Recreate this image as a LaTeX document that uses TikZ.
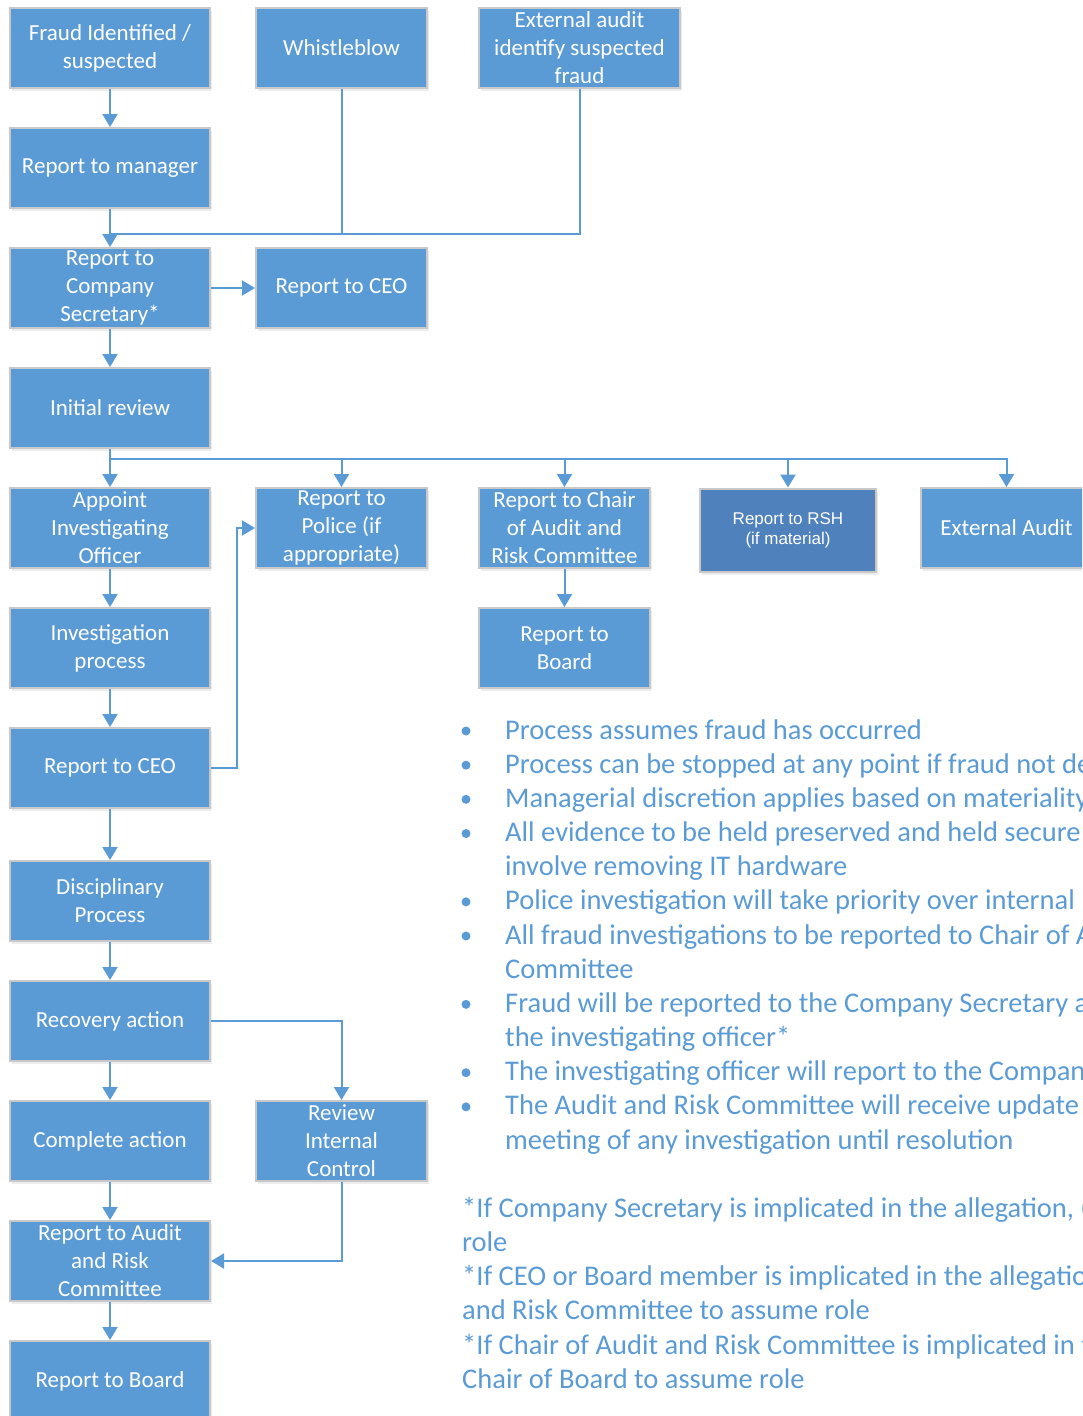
\documentclass[tikz,border=0pt]{standalone}
\usepackage{fontspec}
\setmainfont{Carlito}
\newfontfamily\arialfont{Liberation Sans}
\usetikzlibrary{arrows.meta,shadows}
\definecolor{boxblue}{HTML}{5B9BD5}
\definecolor{rshblue}{HTML}{4F81BD}
\definecolor{boxedge}{HTML}{C8C8C8}

\begin{document}
\begin{tikzpicture}[x=1pt,y=-1pt]
\tikzstyle{every node}+=[inner sep=0pt]
\tikzstyle{box}=[rectangle, fill=boxblue, draw=boxedge, line width=2pt, minimum height=80pt, text=white, align=center, font=\fontsize{23}{28}\selectfont, drop shadow={opacity=0.15, shadow xshift=2pt, shadow yshift=-3pt}]
\tikzstyle{wide}=[box, minimum width=200pt]
\tikzstyle{narrow}=[box, minimum width=171pt]
\tikzstyle{rshbox}=[box, fill=rshblue, minimum width=176pt, minimum height=83pt, font=\arialfont\fontsize{17}{20}\selectfont]
\tikzstyle{wire}=[draw=boxblue, line width=2pt]
\tikzstyle{flow}=[wire, -{Triangle[length=13pt,width=15pt]}]
\tikzstyle{note}=[text=boxblue, anchor=base west, font=\fontsize{28.5}{34}\selectfont]
\tikzstyle{bulletdot}=[circle, fill=boxblue, minimum size=9pt]
\useasboundingbox (0,0) rectangle (1082,1416);
\clip (0,0) rectangle (1082,1416);
% left column
\node[wide] (fraud) at (110,48) {Fraud Identified /\\suspected};
\node[wide] (manager) at (110,168) {Report to manager};
\node[wide] (secretary) at (110,288) {Report to\\Company\\Secretary*};
\node[wide] (review) at (110,408) {Initial review};
\node[wide] (appoint) at (110,528) {Appoint\\Investigating\\Officer};
\node[wide] (process) at (110,648) {Investigation\\process};
\node[wide] (ceo2) at (110,768) {Report to CEO};
\node[wide] (discipline) at (110,901) {Disciplinary\\Process};
\node[wide] (recovery) at (110,1021) {Recovery action};
\node[wide] (complete) at (110,1141) {Complete action};
\node[wide] (arc) at (110,1261) {Report to Audit\\and Risk\\Committee};
\node[wide] (board2) at (110,1381) {Report to Board};
% other columns
\node[narrow] (whistle) at (341.5,48) {Whistleblow};
\node[narrow] (ceo1) at (341.5,288) {Report to CEO};
\node[narrow] (police) at (341.5,528) {Report to\\Police (if\\appropriate)};
\node[narrow] (control) at (341.5,1141) {Review\\Internal\\Control};
\node[box, minimum width=201pt] (extaudit) at (579.5,48) {External audit\\identify suspected\\fraud};
\node[narrow] (chair) at (564.5,528) {Report to Chair\\of Audit and\\Risk Committee};
\node[narrow] (board1) at (564.5,648) {Report to\\Board};
\node[rshbox] (rsh) at (788,530) {Report to RSH\\(if material)};
\node[narrow] (external) at (1006.5,528) {External Audit};
% connectors
\coordinate (join) at (110,234);
\coordinate (split) at (110,459);
\draw[flow] (fraud) -- (manager);
\draw[flow] (manager) -- (secretary);
\draw[wire] (whistle.south) |- (join);
\draw[wire] (extaudit.south) |- (join);
\draw[flow] (secretary) -- (ceo1);
\draw[flow] (secretary) -- (review);
\draw[flow] (review) -- (appoint);
\draw[flow] (split) -| (police.north);
\draw[flow] (split) -| (chair.north);
\draw[flow] (split) -| (rsh.north);
\draw[flow] (split) -| (external.north);
\draw[flow] (chair) -- (board1);
\draw[flow] (appoint) -- (process);
\draw[flow] (process) -- (ceo2);
\draw[flow] (ceo2.east) -- ++(26,0) |- (police.west);
\draw[flow] (ceo2) -- (discipline);
\draw[flow] (discipline) -- (recovery);
\draw[flow] (recovery) -- (complete);
\draw[flow] (recovery.east) -| (control.north);
\draw[flow] (complete) -- (arc);
\draw[flow] (control.south) |- (arc.east);
\draw[flow] (arc) -- (board2);
% notes
\foreach \txt [count=\i from 0] in {
  {Process assumes fraud has occurred},
  {Process can be stopped at any point if fraud not de},
  {Managerial discretion applies based on materiality},
  {All evidence to be held preserved and held secure},
  {involve removing IT hardware},
  {Police investigation will take priority over internal},
  {All fraud investigations to be reported to Chair of A},
  {Committee},
  {Fraud will be reported to the Company Secretary a},
  {the investigating officer*},
  {The investigating officer will report to the Compan},
  {The Audit and Risk Committee will receive update},
  {meeting of any investigation until resolution}}
  \node[note] (note\i) at (505,739+34.17*\i) {\txt};
\foreach \k in {0,1,2,3,5,6,8,10,11}
  \node[bulletdot] (dot\k) at (466,731+34.17*\k) {};
\foreach \txt [count=\i from 14] in {
  {*If Company Secretary is implicated in the allegation, (},
  {role},
  {*If CEO or Board member is implicated in the allegatio},
  {and Risk Committee to assume role},
  {*If Chair of Audit and Risk Committee is implicated in t},
  {Chair of Board to assume role}}
  \node[note] (foot\i) at (462,739+34.17*\i) {\txt};
\end{tikzpicture}
\end{document}
